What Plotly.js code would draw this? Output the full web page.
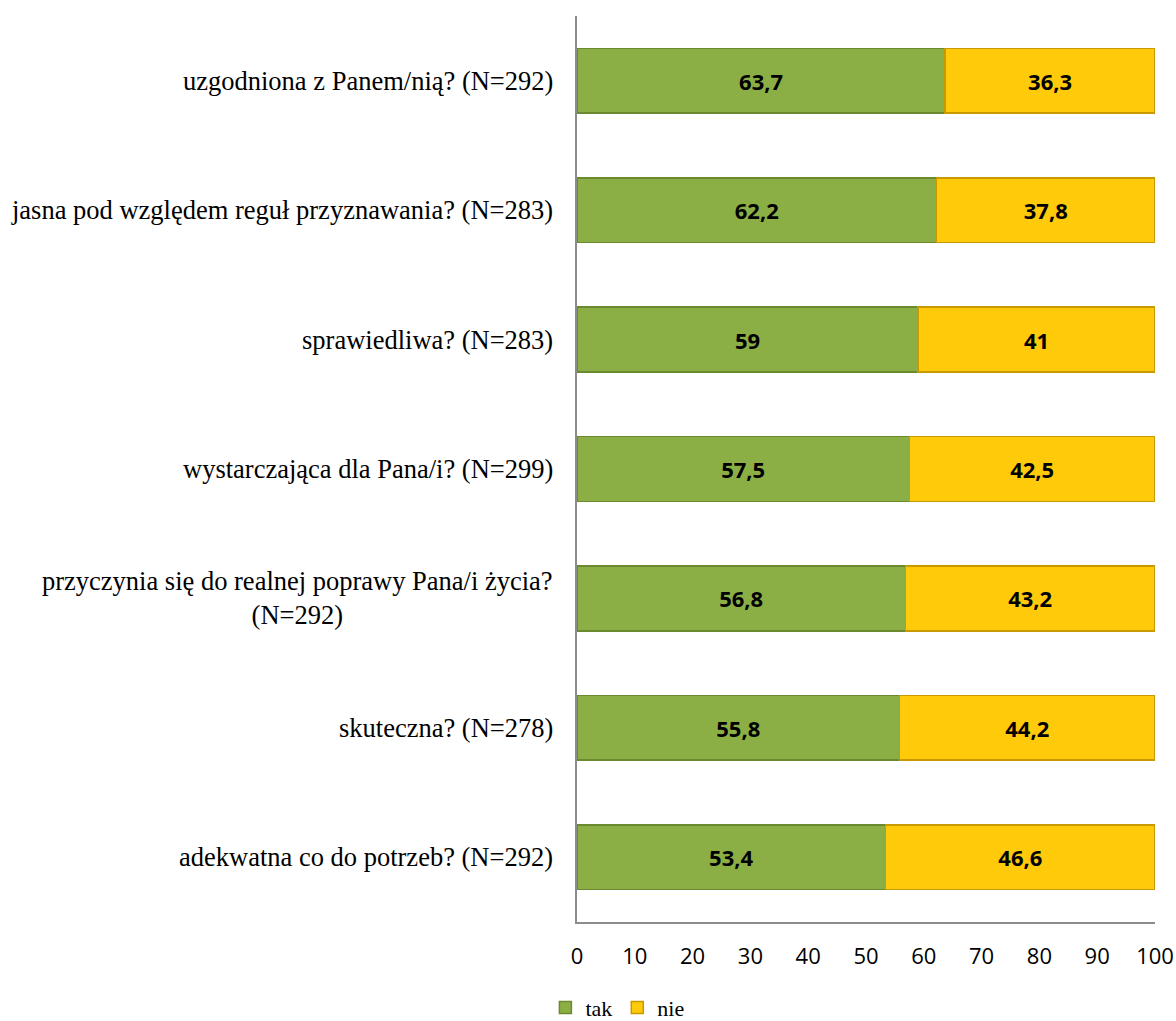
<!DOCTYPE html>
<html>
<head>
<meta charset="utf-8">
<script src="https://cdn.plot.ly/plotly-3.0.1.min.js"></script>
<style>html,body{margin:0;padding:0;background:#fff}#chart{width:1176px;height:1021px}</style>
</head>
<body>
<div id="chart"></div>
<script>
const categories = [
  "uzgodniona z Panem/nią? (N=292)",
  "jasna pod względem reguł przyznawania? (N=283)",
  "sprawiedliwa? (N=283)",
  "wystarczająca dla Pana/i? (N=299)",
  "przyczynia się do realnej poprawy Pana/i życia?<br>(N=292)",
  "skuteczna? (N=278)",
  "adekwatna co do potrzeb? (N=292)"
];
const takValues = [63.7, 62.2, 59, 57.5, 56.8, 55.8, 53.4];
const nieValues = [36.3, 37.8, 41, 42.5, 43.2, 44.2, 46.6];
const seriesNames = ["tak", "nie"];
const xTicks = [0, 10, 20, 30, 40, 50, 60, 70, 80, 90, 100];

const fmt = v => '<b>' + String(v).replace('.', ',') + '</b>';
const labelFont = {family: 'Open Sans', size: 22, color: '#000'};
const serif = 'Liberation Serif';

const traces = [
  {
    type: 'bar', orientation: 'h', name: seriesNames[0],
    y: categories, x: takValues,
    text: takValues.map(fmt), textposition: 'inside', insidetextanchor: 'middle',
    textfont: labelFont, constraintext: 'none',
    marker: {color: '#8CAF45', line: {color: '#6B8A30', width: 1.5}},
    hoverinfo: 'none'
  },
  {
    type: 'bar', orientation: 'h', name: seriesNames[1],
    y: categories, x: nieValues,
    text: nieValues.map(fmt), textposition: 'inside', insidetextanchor: 'middle',
    textfont: labelFont, constraintext: 'none',
    marker: {color: '#FFCA0A', line: {color: '#C99A00', width: 1.5}},
    hoverinfo: 'none'
  }
];

const annotations = categories.map(c => ({
  x: 0, xref: 'paper', y: c, yref: 'y',
  xanchor: 'right', xshift: -22, yanchor: 'middle',
  text: c, showarrow: false, align: 'center',
  font: {family: serif, size: 26.5, color: '#000'}
}));

const layout = {
  width: 1176, height: 1021,
  margin: {l: 577, r: 21, t: 16, b: 99, autoexpand: false},
  paper_bgcolor: '#fff', plot_bgcolor: '#fff',
  barmode: 'stack', bargap: 0.5,
  showlegend: true,
  font: {family: serif},
  legend: {
    orientation: 'h', x: 0.525, xanchor: 'center', xref: 'container',
    y: 0.013, yanchor: 'middle', yref: 'container',
    font: {family: serif, size: 22, color: '#000'},
    itemwidth: 30, traceorder: 'normal'
  },
  xaxis: {
    range: [0, 100], tickvals: xTicks, ticktext: xTicks.map(String),
    showgrid: false, zeroline: false, automargin: false,
    showline: true, linecolor: '#8c8c8c', linewidth: 2,
    ticks: '', ticklabelstandoff: 14,
    tickfont: {family: 'Open Sans', size: 22, color: '#000'},
    fixedrange: true
  },
  yaxis: {
    type: 'category', autorange: 'reversed', automargin: false,
    showticklabels: false, showgrid: false, zeroline: false,
    showline: true, linecolor: '#8c8c8c', linewidth: 2, ticks: '',
    fixedrange: true
  },
  annotations: annotations
};

Plotly.newPlot('chart', traces, layout, {displayModeBar: false, staticPlot: true});
</script>
</body>
</html>
